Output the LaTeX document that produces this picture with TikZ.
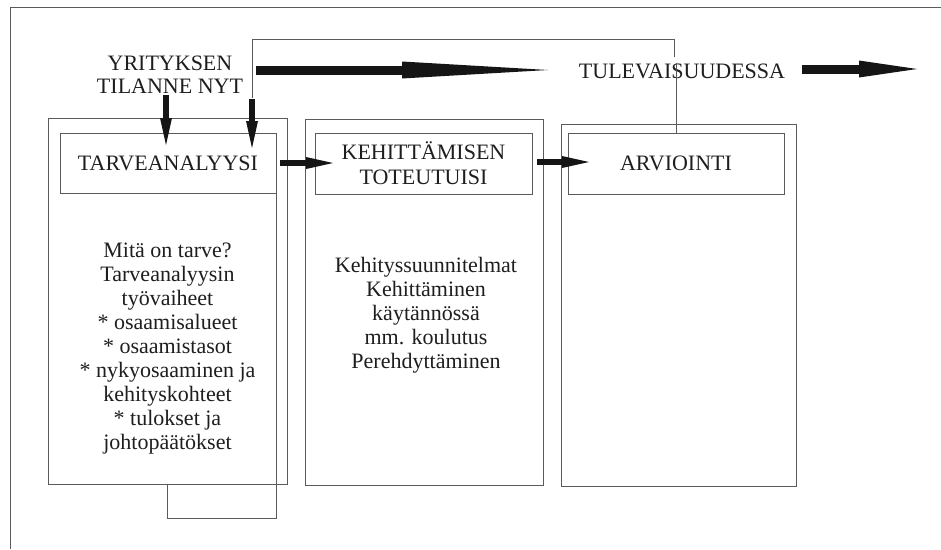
\documentclass[tikz,border=0pt]{standalone}
\usepackage{fontspec}
\setmainfont{Liberation Serif}
\usetikzlibrary{arrows.meta}
\definecolor{linegray}{HTML}{5A5A5A}
\definecolor{inkblack}{HTML}{151515}
\definecolor{txt}{HTML}{1E1E1E}
\tikzset{
  panel/.style={draw=linegray, line width=0.9pt, inner sep=0pt},
  label/.style={text=txt, inner sep=0pt, align=center, font=\fontsize{22}{24}\selectfont},
  thinline/.style={draw=linegray, line width=0.9pt},
  fatarrow/.style={draw=inkblack, line width=6pt, -{Triangle[length=27pt,width=12pt,line width=0pt]}},
  hugearrow/.style={draw=inkblack, line width=9pt, -{Triangle[length=146pt,width=17pt,line width=0pt]}},
  rightarrow/.style={draw=inkblack, line width=9pt, -{Triangle[length=58pt,width=17pt,line width=0pt]}}
}
\begin{document}
\begin{tikzpicture}[x=1pt,y=-1pt]
\useasboundingbox (0,0) rectangle (941,549);
% outer frame (only top and left visible)
\coordinate (fbl) at (10,549);
\coordinate (ftl) at (10,7);
\coordinate (ftr) at (941,7);
\draw[thinline] (fbl) -- (ftl) -- (ftr);
% panels
\node[panel, minimum width=239pt, minimum height=366pt] (p1) at (167.5,301) {};
\node[panel, minimum width=238pt, minimum height=366pt] (p2) at (424,302) {};
\node[panel, minimum width=235pt, minimum height=362pt] (p3) at (678.5,305) {};
% header boxes
\node[panel, minimum width=216pt, minimum height=60pt, label] (t1) at (168,163) {TARVEANALYYSI};
\node[panel, minimum width=217pt, minimum height=61pt, label, font=\fontsize{22}{25}\selectfont] (t2) at (423.5,163.5) {KEHITTÄMISEN\\TOTEUTUISI};
\node[panel, minimum width=216pt, minimum height=61pt, label] (t3) at (676,163.5) {ARVIOINTI};
% body texts
\node[label] (b1) at (167.5,349) {Mitä on tarve?\\Tarveanalyysin\\työvaiheet\\* osaamisalueet\\* osaamistasot\\* nykyosaaminen ja\\kehityskohteet\\* tulokset ja\\johtopäätökset};
\node[label] (b2) at (426,315) {Kehityssuunnitelmat\\Kehittäminen\\käytännössä\\mm. koulutus\\Perehdyttäminen};
% free texts
\node[label, font=\fontsize{22}{23}\selectfont] (yrit) at (170,75) {YRITYKSEN\\TILANNE NYT};
\node[label] (tul) at (682,71) {TULEVAISUUDESSA};
% loop below panel 1
\coordinate (lb) at (167,518);
\draw[thinline] (t1.south east) |- (lb) -- (lb |- p1.south);
% feedback line from ARVIOINTI over the top
\coordinate (fa) at (676,63);
\coordinate (fb) at (674,57);
\coordinate (fc) at (674,39);
\coordinate (fd) at (252,39);
\coordinate (fe) at (252,98);
\coordinate (ff) at (252,148);
\draw[thinline] (t3.north -| fa) -- (fa);
\draw[thinline] (fb) -- (fc) -- (fd) -- (fe);
\draw[fatarrow] ([yshift=-1pt]fe) -- (ff);
% arrow from YRITYKSEN into TARVEANALYYSI
\coordinate (ya) at (166,95);
\coordinate (yb) at (166,145);
\draw[fatarrow] (ya) -- (yb);
% horizontal arrows between header boxes
\coordinate (h1a) at (280,163);
\coordinate (h1b) at (333,163);
\coordinate (h2a) at (537,162);
\coordinate (h2b) at (589,162);
\draw[fatarrow] (h1a) -- (h1b);
\draw[fatarrow] (h2a) -- (h2b);
% big arrows at top
\coordinate (ba) at (256,70);
\coordinate (bb) at (548,70);
\draw[hugearrow] (ba) -- (bb);
\coordinate (ra) at (802,69);
\coordinate (rb) at (917,69);
\draw[rightarrow] (ra) -- (rb);
\end{tikzpicture}
\end{document}
